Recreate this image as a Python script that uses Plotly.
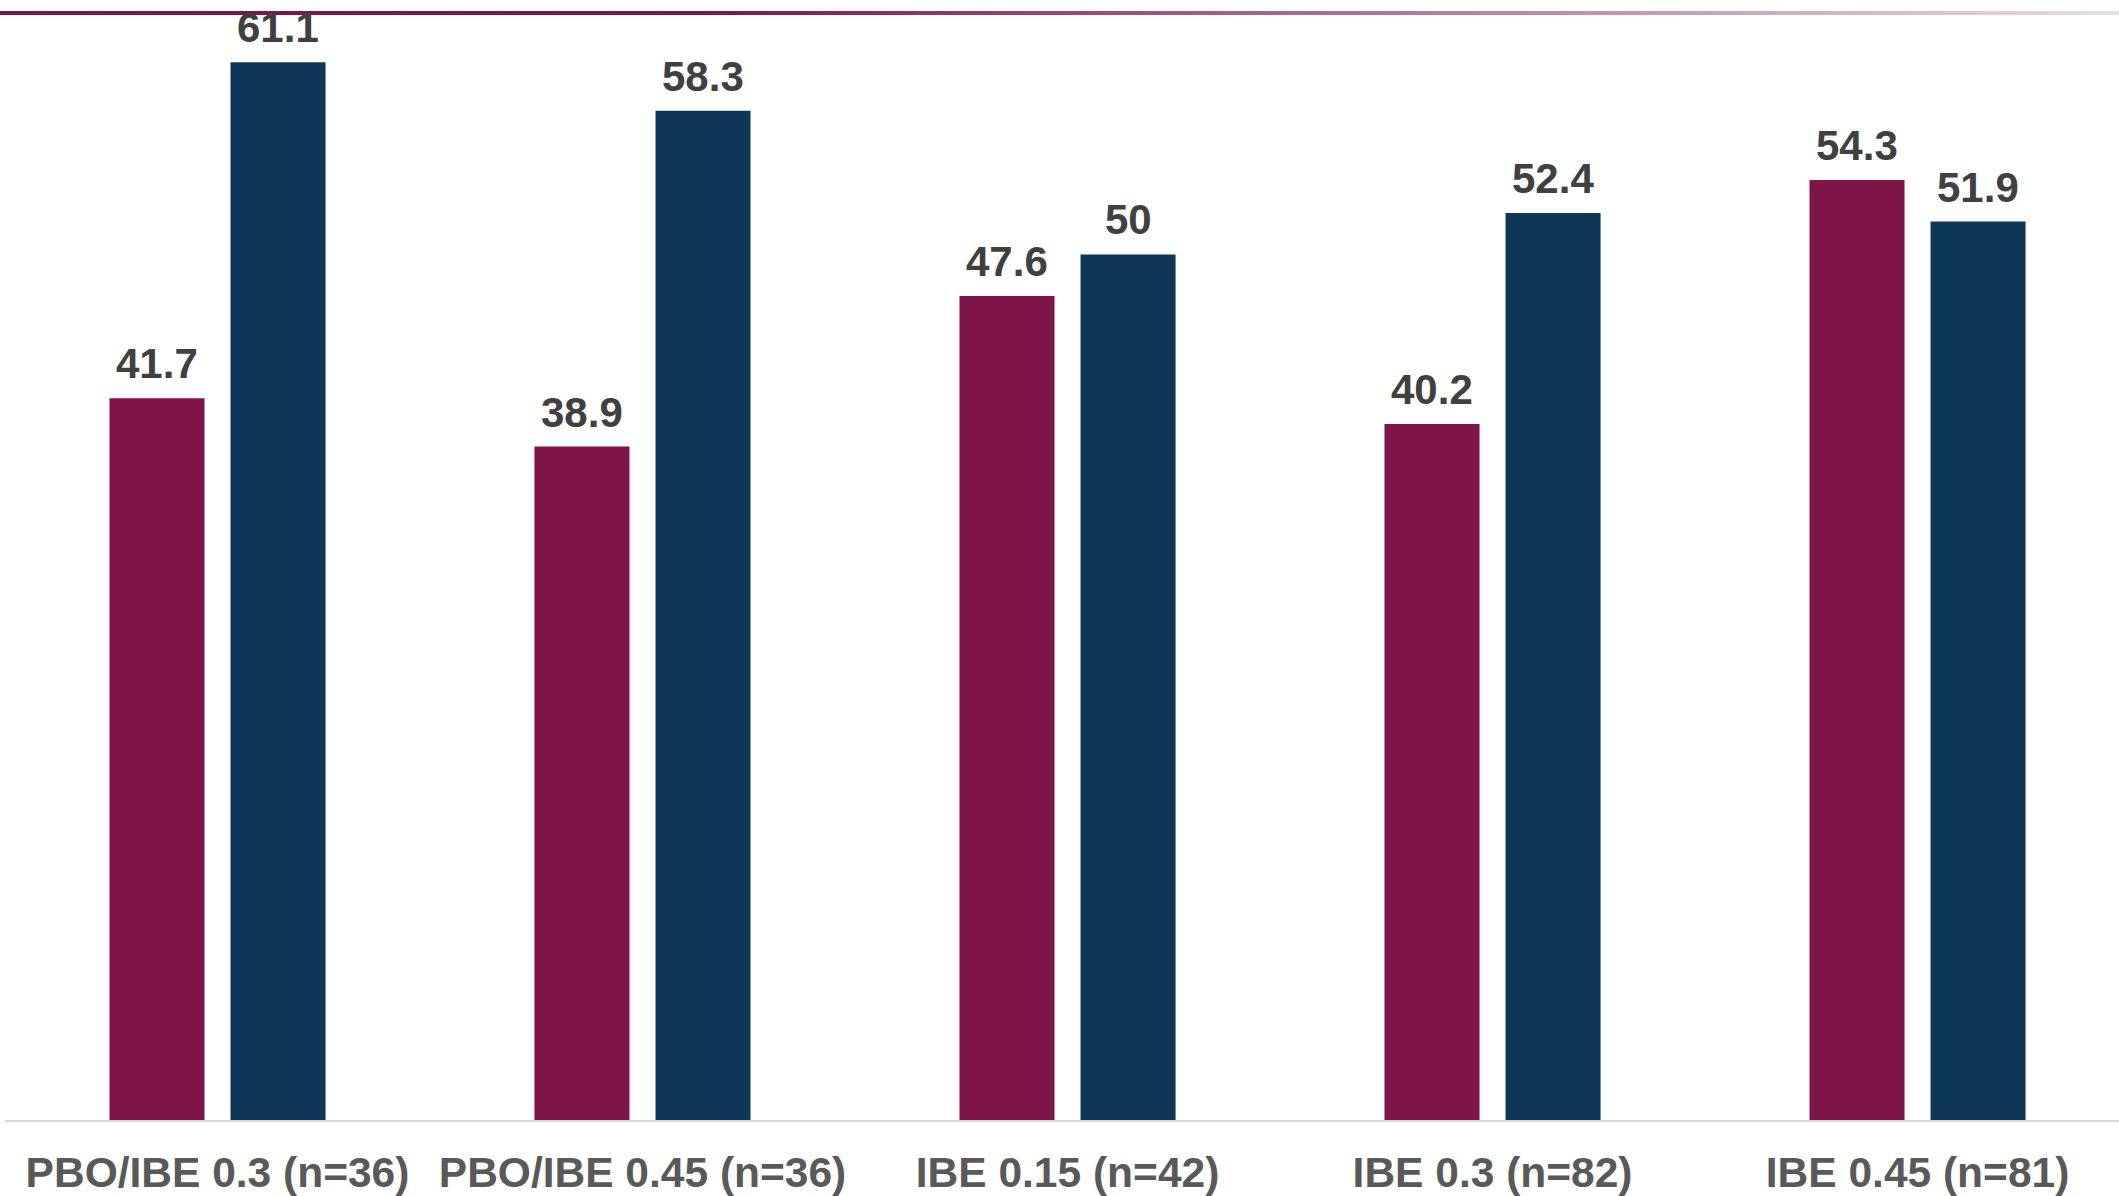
import plotly.graph_objects as go

categories = ["PBO/IBE 0.3 (n=36)", "PBO/IBE 0.45 (n=36)", "IBE 0.15 (n=42)",
              "IBE 0.3 (n=82)", "IBE 0.45 (n=81)"]
series_a = [41.7, 38.9, 47.6, 40.2, 54.3]
series_b = [61.1, 58.3, 50.0, 52.4, 51.9]
labels_a = ["41.7", "38.9", "47.6", "40.2", "54.3"]
labels_b = ["61.1", "58.3", "50", "52.4", "51.9"]

W, H = 2119, 1196
ML, MB = 5, 74
FONT = "Liberation Sans, Arial, sans-serif"
MAGENTA = "#7f1448"
NAVY = "#0e3657"

fig = go.Figure()
fig.add_trace(go.Bar(x=categories, y=series_a, marker_color=MAGENTA,
                     marker_line_width=0, hoverinfo="skip", name="A"))
fig.add_trace(go.Bar(x=categories, y=series_b, marker_color=NAVY,
                     marker_line_width=0, hoverinfo="skip", name="B"))

slot = 0.2848
annotations = []
for i in range(len(categories)):
    for off, val, lab in ((-slot / 2, series_a[i], labels_a[i]),
                          (slot / 2, series_b[i], labels_b[i])):
        annotations.append(dict(x=i + off, y=val, xref="x", yref="y", text=lab,
                                showarrow=False, yanchor="bottom", yshift=9,
                                font=dict(family=FONT, size=42, color="#404040",
                                          weight="bold")))

# gradient rule at the top
plot_w = W - ML
plot_h = H - MB
shapes = []
n = 240
x_start, x_solid_end, x_end = 0.0, 700.0, float(W)
c0 = (127, 20, 72)
c1 = (233, 222, 227)
for k in range(n):
    px0 = x_start + (x_end - x_start) * k / n
    px1 = x_start + (x_end - x_start) * (k + 1) / n
    mid = (px0 + px1) / 2
    t = 0.0 if mid <= x_solid_end else (mid - x_solid_end) / (x_end - x_solid_end)
    col = tuple(round(c0[j] + (c1[j] - c0[j]) * t) for j in range(3))
    shapes.append(dict(type="rect", xref="paper", yref="paper",
                       x0=(px0 - ML) / plot_w, x1=(px1 + 0.6 - ML) / plot_w,
                       y0=1 - 15 / plot_h, y1=1 - 11 / plot_h,
                       line_width=0, fillcolor="rgb(%d,%d,%d)" % col, layer="above"))

fig.update_layout(
    width=W, height=H,
    margin=dict(l=ML, r=0, t=0, b=MB, pad=0),
    paper_bgcolor="white", plot_bgcolor="white",
    barmode="group", bargap=0.4304, bargroupgap=0.215,
    showlegend=False,
    annotations=annotations,
    shapes=shapes,
    xaxis=dict(type="category", range=[-0.5, 4.474], showline=True,
               linecolor="#d9d9d9", linewidth=2, ticks="", showgrid=False,
               zeroline=False, fixedrange=True, ticklabelstandoff=14,
               tickfont=dict(family=FONT, size=42.5, color="#595959", weight="bold")),
    yaxis=dict(range=[0, 64.7], showticklabels=False, showgrid=False,
               zeroline=False, showline=False, ticks="", fixedrange=True),
)

fig.write_html("out.html")
